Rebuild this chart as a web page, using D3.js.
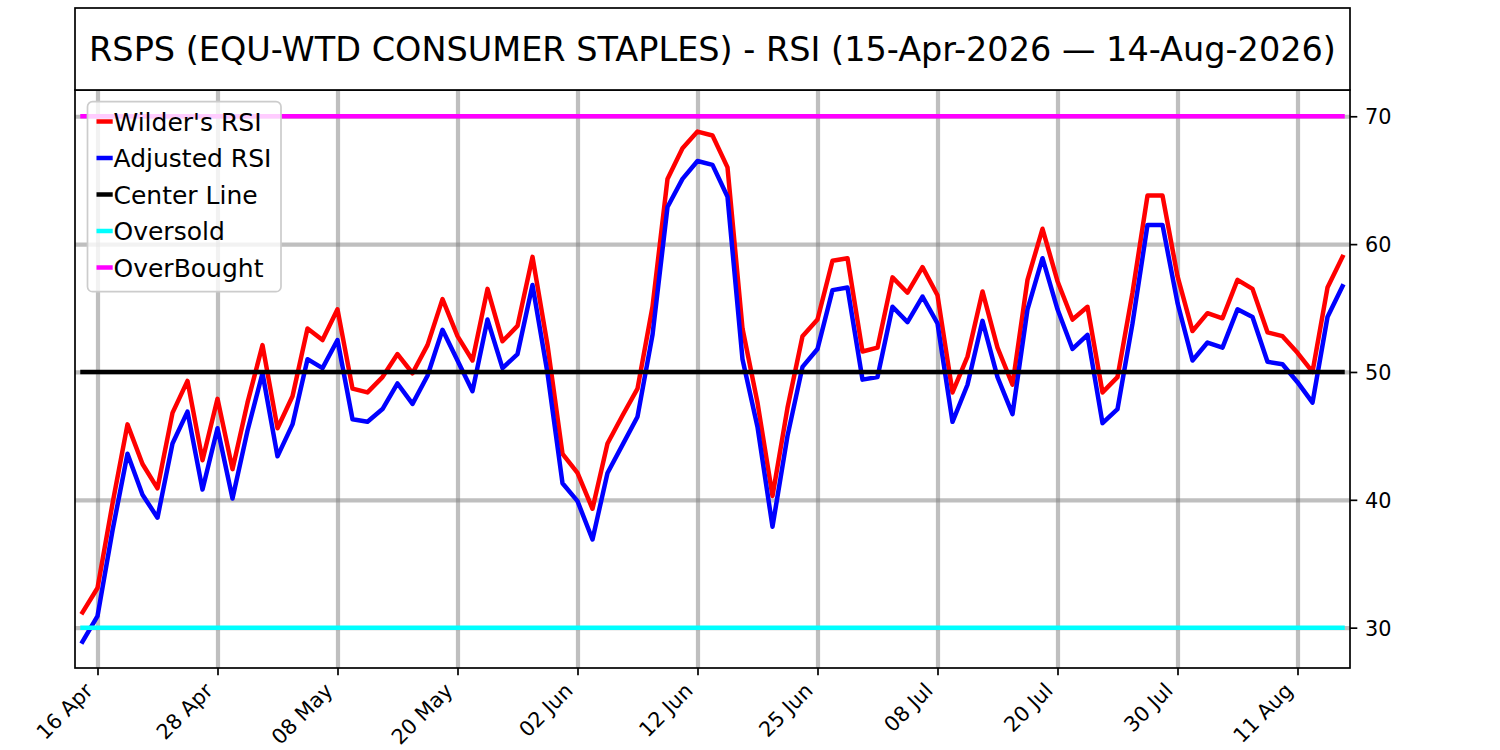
<!DOCTYPE html>
<html>
  <head>
    <title>RSPS RSI</title>
    <style>
      body {
        margin: 0px;
        overflow: hidden;
        background: #fff;
      }
      text {
        font-family: "DejaVu Sans", sans-serif;
      }
    </style>
    <script src="https://d3js.org/d3.v7.min.js"></script>
  </head>
  <body>

    <svg width="1500" height="750"></svg>

    <script>
      // Wilder's RSI, one value per trading day (15 Apr .. 14 Aug 2026)
      const wilderRsi = [
        31.2, 33.1, 39.7, 45.9, 42.8, 40.9, 46.8, 49.3, 43.1, 47.9,
        42.4, 47.6, 52.1, 45.6, 48.1, 53.4, 52.5, 54.9, 48.7, 48.4,
        49.6, 51.4, 49.9, 52.1, 55.7, 52.8, 50.9, 56.5, 52.4, 53.6,
        59.0, 52.1, 43.6, 42.1, 39.3, 44.4, 46.6, 48.7, 55.1, 65.1,
        67.5, 68.8, 68.5, 66.0, 53.4, 47.6, 40.3, 47.2, 52.8, 54.1,
        58.7, 58.9, 51.6, 51.9, 57.4, 56.2, 58.2, 56.0, 48.4, 51.2,
        56.3, 51.9, 49.0, 57.2, 61.2, 57.1, 54.1, 55.1, 48.4, 49.6,
        56.2, 63.8, 63.8, 57.5, 53.2, 54.6, 54.2, 57.2, 56.5, 53.1,
        52.8, 51.5, 50.0, 56.6, 59.0
      ];

      const adjustedRsi = [
        28.9, 30.9, 37.6, 43.6, 40.4, 38.6, 44.4, 46.9, 40.8, 45.6,
        40.1, 45.4, 49.9, 43.4, 45.9, 51.0, 50.3, 52.5, 46.3, 46.1,
        47.1, 49.1, 47.5, 49.7, 53.3, 50.9, 48.5, 54.1, 50.3, 51.4,
        56.8, 49.9, 41.3, 39.9, 36.9, 42.1, 44.3, 46.5, 52.9, 62.9,
        65.1, 66.5, 66.2, 63.7, 51.0, 45.7, 37.9, 45.0, 50.4, 51.8,
        56.4, 56.6, 49.4, 49.6, 55.1, 53.9, 55.9, 53.8, 46.1, 49.0,
        54.0, 49.6, 46.7, 54.9, 58.9, 54.9, 51.8, 52.9, 46.0, 47.1,
        53.8, 61.5, 61.5, 55.4, 50.9, 52.3, 51.9, 54.9, 54.3, 50.8,
        50.6, 49.2, 47.6, 54.3, 56.7
      ];

      const centerLevel = 50;
      const oversoldLevel = 30;
      const overboughtLevel = 70;

      // x ticks sit on trading-day positions
      const tickIndex = [1, 9, 17, 25, 33, 41, 49, 57, 65, 73, 81];
      const tickLabels = ['16 Apr', '28 Apr', '08 May', '20 May', '02 Jun', '12 Jun',
                          '25 Jun', '08 Jul', '20 Jul', '30 Jul', '11 Aug'];
      const yTicks = [30, 40, 50, 60, 70];

      const seriesNames = ["Wilder's RSI", 'Adjusted RSI', 'Center Line', 'Oversold', 'OverBought'];
      const seriesColors = ['#ff0000', '#0000ff', '#000000', '#00ffff', '#ff00ff'];

      const title = 'RSPS (EQU-WTD CONSUMER STAPLES) - RSI (15-Apr-2026 \u2014 14-Aug-2026)';

      const svg = d3.select('svg');
      const width = +svg.attr('width');
      const height = +svg.attr('height');

      const render = () => {
        const margin = { top: 90, right: 150, bottom: 82, left: 75 };
        const innerWidth = width - margin.left - margin.right;
        const innerHeight = height - margin.top - margin.bottom;
        const lw = 4.5;

        const days = d3.range(wilderRsi.length);
        const series = [
          wilderRsi,
          adjustedRsi,
          days.map(() => centerLevel),
          days.map(() => oversoldLevel),
          days.map(() => overboughtLevel)
        ];

        const xScale = d3.scalePoint()
          .domain(days)
          .range([0, innerWidth])
          .padding(0.5);

        const [yMin, yMax] = d3.extent(series.flat());
        const yPad = (yMax - yMin) * 0.05;
        const yScale = d3.scaleLinear()
          .domain([yMin - yPad, yMax + yPad])
          .range([innerHeight, 0]);

        const g = svg.append('g')
          .attr('transform', `translate(${margin.left},${margin.top})`);

        // grid
        const xGrid = g.append('g')
          .attr('transform', `translate(0,${innerHeight})`)
          .call(d3.axisBottom(xScale).tickValues(tickIndex).tickSize(-innerHeight).tickFormat(''));
        const yGrid = g.append('g')
          .call(d3.axisLeft(yScale).tickValues(yTicks).tickSize(-innerWidth).tickFormat(''));
        [xGrid, yGrid].forEach(a => {
          a.select('.domain').remove();
          a.selectAll('line')
            .attr('stroke', '#808080')
            .attr('stroke-opacity', 0.5)
            .attr('stroke-width', 4.2);
        });

        // lines
        const line = d3.line()
          .x((d, i) => xScale(i))
          .y(d => yScale(d));

        g.selectAll('.series').data(series)
          .enter().append('path')
            .attr('class', 'series')
            .attr('d', line)
            .attr('fill', 'none')
            .attr('stroke', (d, i) => seriesColors[i])
            .attr('stroke-width', lw)
            .attr('stroke-linejoin', 'round')
            .attr('stroke-linecap', 'square');

        // axes
        const xAxis = g.append('g')
          .attr('transform', `translate(0,${innerHeight})`)
          .call(d3.axisBottom(xScale)
            .tickValues(tickIndex)
            .tickFormat((d, i) => tickLabels[i])
            .tickSize(7.3)
            .tickSizeOuter(0));
        xAxis.select('.domain').remove();
        xAxis.selectAll('.tick line').attr('stroke', '#000').attr('stroke-width', 1.7);
        xAxis.selectAll('text')
          .attr('x', 0).attr('y', 0).attr('dy', 0)
          .attr('transform', 'translate(-4,24) rotate(-45)')
          .attr('text-anchor', 'end')
          .attr('fill', '#000')
          .style('font-size', '20.8px');

        const yAxis = g.append('g')
          .attr('transform', `translate(${innerWidth},0)`)
          .call(d3.axisRight(yScale)
            .tickValues(yTicks)
            .tickSize(7.3)
            .tickPadding(7.8)
            .tickSizeOuter(0));
        yAxis.select('.domain').remove();
        yAxis.selectAll('.tick line').attr('stroke', '#000').attr('stroke-width', 1.7);
        yAxis.selectAll('text')
          .attr('dy', '0.36em')
          .attr('fill', '#000')
          .style('font-size', '20.8px');

        // plot frame
        g.append('rect')
          .attr('width', innerWidth)
          .attr('height', innerHeight)
          .attr('fill', 'none')
          .attr('stroke', '#000')
          .attr('stroke-width', 1.7);

        // legend
        const legend = g.append('g')
          .attr('transform', 'translate(13,12)');
        legend.append('rect')
          .attr('x', -0.5).attr('y', -0.3)
          .attr('width', 193.5).attr('height', 190)
          .attr('rx', 5).attr('ry', 5)
          .attr('fill', '#fff').attr('fill-opacity', 0.8)
          .attr('stroke', '#cccccc').attr('stroke-width', 1.7);
        const rows = legend.selectAll('.row').data(seriesNames)
          .enter().append('g')
            .attr('class', 'row')
            .attr('transform', (d, i) => `translate(0,${28.7 + i * 36.5})`);
        rows.append('line')
          .attr('x1', 8.5).attr('x2', 24.7)
          .attr('y1', -9.2).attr('y2', -9.2)
          .attr('stroke', (d, i) => seriesColors[i])
          .attr('stroke-width', lw);
        rows.append('text')
          .attr('x', 25.5)
          .attr('fill', '#000')
          .style('font-size', '25px')
          .text(d => d);

        // title box
        svg.append('rect')
          .attr('x', margin.left).attr('y', 8)
          .attr('width', innerWidth).attr('height', margin.top - 8)
          .attr('fill', '#fff')
          .attr('stroke', '#000')
          .attr('stroke-width', 1.7);
        svg.append('text')
          .attr('x', margin.left + innerWidth / 2)
          .attr('y', 61)
          .attr('text-anchor', 'middle')
          .attr('fill', '#000')
          .style('font-size', '33.5px')
          .text(title);
      };

      render();
    </script>
  </body>
</html>
